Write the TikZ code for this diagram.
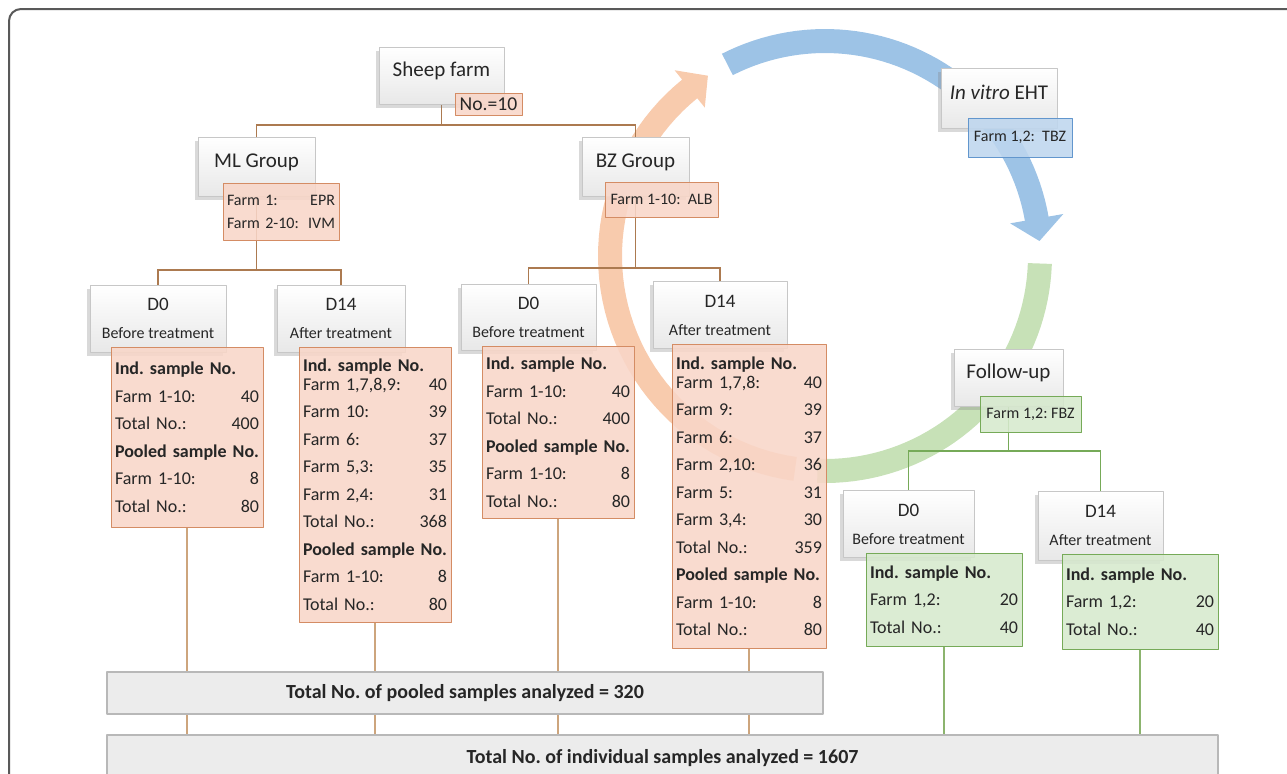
\documentclass[tikz,border=0pt]{standalone}
\usepackage{fontspec}
\setmainfont{Carlito}
\frenchspacing
\usetikzlibrary{shadows,backgrounds}
\definecolor{pinkfill}{RGB}{248,214,200}
\definecolor{pinkline}{RGB}{212,140,100}
\definecolor{greenfill}{RGB}{214,233,205}
\definecolor{greenline}{RGB}{118,170,88}
\definecolor{bluefill}{RGB}{190,214,238}
\definecolor{blueline}{RGB}{98,150,205}
\definecolor{arcorange}{RGB}{248,203,173}
\definecolor{arcblue}{RGB}{157,195,230}
\definecolor{arcgreen}{RGB}{199,225,183}
\definecolor{barfill}{RGB}{236,236,236}
\definecolor{linkbrown}{RGB}{172,122,80}
\definecolor{linktan}{RGB}{205,165,125}
\definecolor{linkgreen}{RGB}{140,180,110}
\tikzset{
  whitebox/.style={draw=black!22, top color=white, bottom color=black!9,
    drop shadow={shadow xshift=-1.5pt, shadow yshift=-1.8pt, opacity=.3},
    text=black!85, inner sep=0pt},
  titlebox/.style={whitebox, font=\fontsize{10.5}{12}\selectfont, text depth=6pt},
  daybox/.style={whitebox, align=center, font=\fontsize{9.5}{14}\selectfont},
  pinkbox/.style={draw=pinkline, fill=pinkfill, fill opacity=.88, text opacity=1, text=black!85, inner sep=0pt},
  greenbox/.style={pinkbox, draw=greenline, fill=greenfill},
  bluebox/.style={pinkbox, draw=blueline, fill=bluefill},
  farmtxt/.style={font=\fontsize{8}{11.5}\selectfont, align=left, inner xsep=2pt},
  datatxt/.style={font=\fontsize{9}{13.75}\selectfont, align=left, inner xsep=2pt},
  barbox/.style={draw=black!28, line width=.8pt, fill=barfill, text=black!85,
    font=\bfseries\fontsize{10}{12}\selectfont},
  link/.style={line width=.6pt}
}
\newcommand{\subday}[1]{{\fontsize{8}{9.6}\selectfont #1}}
\begin{document}
\begin{tikzpicture}[x=0.5pt, y=-0.5pt, line join=round, line cap=round]
\useasboundingbox (0,0) rectangle (1287,773);
\def\cx{825} \def\cy{256}

% top of the tree
\node[titlebox, minimum width=62.5pt, minimum height=28.5pt] (sheep) at (441.5,75.5) {Sheep farm};
\node[pinkbox, font=\fontsize{9.8}{11}\selectfont, minimum width=33.5pt, minimum height=11pt] (no10) at (488.5,104) {No.=10};
\node[titlebox, minimum width=58.5pt, minimum height=29.5pt] (ml) at (256.5,166.5) {ML Group};
\node[pinkbox, farmtxt, text width=54pt, minimum height=28.5pt] (mlsub) at (281,211.5) {Farm 1:\hfill EPR\\Farm 2-10:\hfill IVM};
\node[titlebox, minimum width=53.5pt, minimum height=29.5pt] (bz) at (635.5,166.5) {BZ Group};
\node[pinkbox, font=\fontsize{8}{10}\selectfont, minimum width=56.5pt, minimum height=17.5pt] (bzsub) at (661.5,199.5) {Farm 1-10:~ ALB};
\node[titlebox, minimum width=58pt, minimum height=30pt] (eht) at (999,98) {\textit{In vitro} EHT};
\node[bluebox, font=\fontsize{8}{10}\selectfont, minimum width=52pt, minimum height=19.5pt] (ehtsub) at (1020,137.5) {Farm 1,2:~ TBZ};
\node[titlebox, minimum width=54.5pt, minimum height=28.5pt] (fu) at (1008.5,377.5) {Follow-up};
\node[greenbox, font=\fontsize{8}{10}\selectfont, minimum width=50.5pt, minimum height=18pt] (fusub) at (1030.5,414) {Farm 1,2: FBZ};

% days
\node[daybox, minimum width=68pt, minimum height=33.5pt] (mlD0) at (158,318.5) {D0\\\subday{Before treatment}};
\node[daybox, minimum width=64pt, minimum height=33.5pt] (mlD14) at (341,318.5) {D14\\\subday{After treatment}};
\node[daybox, minimum width=67.5pt, minimum height=33pt] (bzD0) at (528.5,317) {D0\\\subday{Before treatment}};
\node[daybox, minimum width=67pt, minimum height=33.5pt] (bzD14) at (720,315) {D14\\\subday{After treatment}};
\node[daybox, minimum width=65.5pt, minimum height=33.5pt] (fuD0) at (908.5,524) {D0\\\subday{Before treatment}};
\node[daybox, minimum width=62.5pt, minimum height=34.5pt] (fuD14) at (1100.5,525.5) {D14\\\subday{After treatment}};

% sample numbers
\node[pinkbox, datatxt, text width=72pt, minimum height=90pt] (mlD0d) at (187,437)
  {\textbf{Ind. sample No.}\\Farm 1-10:\hfill 40\\Total No.:\hfill 400\\\textbf{Pooled sample No.}\\Farm 1-10:\hfill 8\\Total No.:\hfill 80};
\node[pinkbox, datatxt, text width=72pt, minimum height=137.5pt] (mlD14d) at (375,484.5)
  {\textbf{Ind. sample No.}\\[-4.25pt]Farm 1,7,8,9:\hfill 40\\Farm 10:\hfill 39\\Farm 6:\hfill 37\\Farm 5,3:\hfill 35\\Farm 2,4:\hfill 31\\Total No.:\hfill 368\\\textbf{Pooled sample No.}\\Farm 1-10:\hfill 8\\Total No.:\hfill 80};
\node[pinkbox, datatxt, text width=72pt, minimum height=86pt] (bzD0d) at (558,432)
  {\textbf{Ind. sample No.}\\Farm 1-10:\hfill 40\\Total No.:\hfill 400\\\textbf{Pooled sample No.}\\Farm 1-10:\hfill 8\\Total No.:\hfill 80};
\node[pinkbox, datatxt, text width=73pt, minimum height=152pt] (bzD14d) at (749,496)
  {\textbf{Ind. sample No.}\\[-4.25pt]Farm 1,7,8:\hfill 40\\Farm 9:\hfill 39\\Farm 6:\hfill 37\\Farm 2,10:\hfill 36\\Farm 5:\hfill 31\\Farm 3,4:\hfill 30\\Total No.:\hfill 359\\\textbf{Pooled sample No.}\\Farm 1-10:\hfill 8\\Total No.:\hfill 80};
\node[greenbox, datatxt, text width=74pt, minimum height=46.5pt] (fuD0d) at (944,599.5)
  {\textbf{Ind. sample No.}\\Farm 1,2:\hfill 20\\Total No.:\hfill 40};
\node[greenbox, datatxt, text width=74pt, minimum height=47.5pt] (fuD14d) at (1140,601.5)
  {\textbf{Ind. sample No.}\\Farm 1,2:\hfill 20\\Total No.:\hfill 40};

% totals
\node[barbox, minimum width=358pt, minimum height=21pt] (pooled) at (465,693) {Total No. of pooled samples analyzed = 320};
\node[barbox, minimum width=555.5pt, minimum height=23pt] (allbar) at (662.5,758) {Total No. of individual samples analyzed = 1607};

\begin{scope}[on background layer]
  \draw[black!65, line width=1pt, rounded corners=6pt] (9,800) -- (9,9) -- (1300,9);
  % cycle
  \fill[arcorange] plot[domain=98:231, samples=50] ({\cx+227*cos(\x)},{\cy+227*sin(\x)})
    -- ({\cx+239*cos(231)},{\cy+239*sin(231)}) -- ({\cx+215*cos(237)},{\cy+215*sin(237)})
    -- ({\cx+191*cos(231)},{\cy+191*sin(231)})
    -- plot[domain=231:98, samples=50] ({\cx+203*cos(\x)},{\cy+203*sin(\x)}) -- cycle;
  \fill[arcblue] plot[domain=243:350, samples=50] ({\cx+227*cos(\x)},{\cy+227*sin(\x)})
    -- ({\cx+242*cos(350)},{\cy+242*sin(350)}) -- ({\cx+215*cos(356)},{\cy+215*sin(356)})
    -- ({\cx+188*cos(350)},{\cy+188*sin(350)})
    -- plot[domain=350:243, samples=50] ({\cx+203*cos(\x)},{\cy+203*sin(\x)}) -- cycle;
  \fill[arcgreen] plot[domain=2:92, samples=40] ({\cx+227*cos(\x)},{\cy+227*sin(\x)})
    -- plot[domain=92:2, samples=40] ({\cx+203*cos(\x)},{\cy+203*sin(\x)}) -- cycle;
  % tree lines
  \draw[link, linkbrown] (sheep.center) -- (sheep.center |- 0,125) coordinate (j0);
  \draw[link, linkbrown] (ml.center) |- (j0) -| (bz.center);
  \draw[link, linkbrown] (ml.center) -- (ml.center |- 0,270) coordinate (mlj);
  \draw[link, linkbrown] (mlD0.center) |- (mlj) -| (mlD14.center);
  \draw[link, linkbrown] (bz.center) -- (bz.center |- 0,268) coordinate (bzj);
  \draw[link, linkbrown] (bzD0.center) |- (bzj) -| (bzD14.center);
  \draw[link, greenline] (fu.center) -- (fu.center |- 0,451) coordinate (fuj);
  \draw[link, greenline] (fuD0.center) |- (fuj) -| (fuD14.center);
  \foreach \d in {mlD0d,mlD14d,bzD0d,bzD14d}
    \draw[link, linktan] (\d.south) -- (\d.south |- allbar.north);
  \foreach \d in {fuD0d,fuD14d}
    \draw[link, linkgreen] (\d.south) -- (\d.south |- allbar.north);
\end{scope}
\end{tikzpicture}
\end{document}
